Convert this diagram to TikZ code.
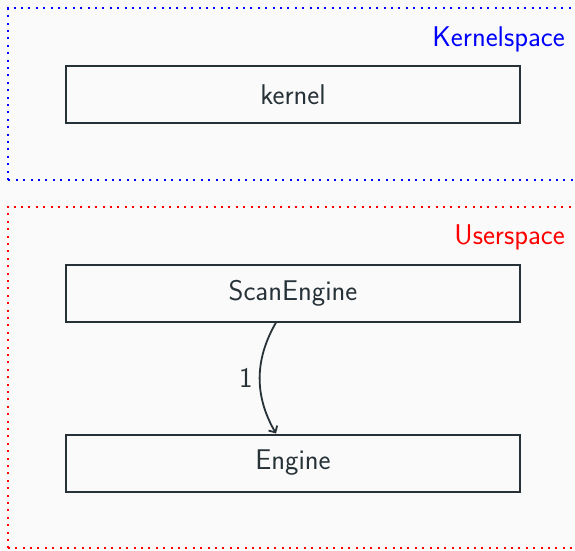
\documentclass[tikz,border=0pt]{standalone}
\usetikzlibrary{arrows.meta}
\definecolor{ink}{HTML}{263238}
\definecolor{paper}{HTML}{FAFAFA}
\tikzset{
  txt/.style={font=\sffamily\fontsize{28.5}{34}\selectfont},
  block/.style={draw=ink, line width=2pt, fill=paper, minimum width=454pt, minimum height=57pt,
    inner sep=0pt, text=ink, txt},
  zone/.style={line width=2pt, dash pattern=on 2pt off 5.4pt},
  zonelabel/.style={anchor=base east, inner sep=0pt, txt},
  flow/.style={draw=ink, line width=1.8pt, -{Straight Barb[length=5pt,width=10pt]}},
}
\begin{document}
\begin{tikzpicture}[x=1pt,y=1pt]
  \useasboundingbox (0,0) rectangle (575,550);
  \fill[paper] (0,0) rectangle (575,550);
  \clip (0,0) rectangle (575,550);
  % address-space zones
  \draw[zone, blue] (8,370) rectangle (592,542);
  \draw[zone, red] (7.5,1.7) rectangle (592,343.3);
  \node[zonelabel, text=blue] (klabel) at (565,503.5) {Kernelspace};
  \node[zonelabel, text=red] (ulabel) at (565,306) {Userspace};
  % components
  \node[block] (kernel) at (293,455.5) {kernel};
  \node[block] (scan) at (293,257) {ScanEngine};
  \node[block] (engine) at (293,87) {Engine};
  % call edge
  \draw[flow] ([xshift=-17pt]scan.south) to[bend right]
    node[midway, left=3pt, text=ink, txt] {1}
    ([xshift=-17pt]engine.north);
\end{tikzpicture}
\end{document}
